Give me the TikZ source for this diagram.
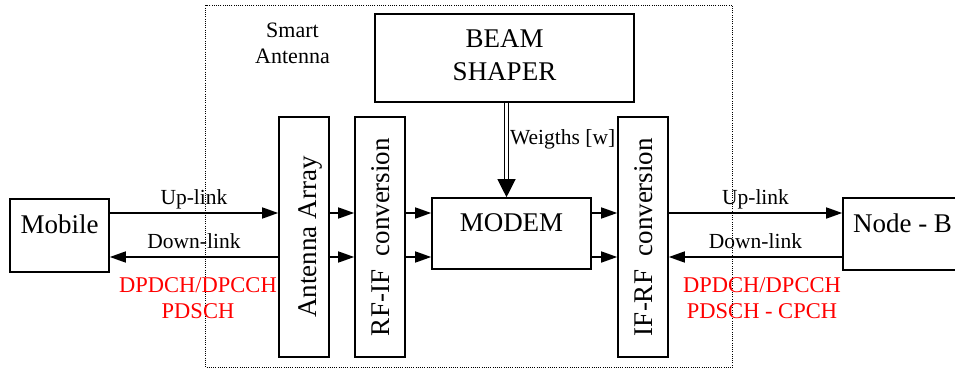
\documentclass[tikz,border=0pt]{standalone}
\usepackage{fontspec}
\setmainfont{Liberation Serif}
\usetikzlibrary{arrows.meta}
\begin{document}
\begin{tikzpicture}[x=1pt,y=-1pt,
  blk/.style={draw, line width=1.6pt, inner sep=0pt, font=\fontsize{27}{33}\selectfont},
  hblk/.style={blk, text height=19pt, text depth=23pt},
  vblk/.style={blk, rotate=90, minimum width=240pt, minimum height=50pt, text depth=6pt},
  lnk/.style={line width=1.5pt, -{Triangle[length=16pt,width=11pt]}},
  lbl/.style={font=\fontsize{21.5}{26}\selectfont, inner sep=0pt},
  chan/.style={font=\fontsize{22.5}{26}\selectfont, text=red, align=center, inner sep=0pt},
  frame/.style={line width=1pt, dash pattern=on 1pt off 1.2pt}
]
\useasboundingbox (0,0) rectangle (955,369);
\clip (0,0) rectangle (955,369);

% smart antenna enclosure
\draw[frame] (205.5,5.5) rectangle (732.5,367.5);
\node[font=\fontsize{22}{26}\selectfont, align=center, inner sep=0pt, anchor=north] (smart) at (292.5,22.4) {Smart\\Antenna};

% blocks
\node[hblk, minimum width=99pt, minimum height=73pt] (mobile) at (59.5,235.5) {Mobile};
\node[hblk, minimum width=119pt, minimum height=72pt] (nodeb) at (902.5,234) {Node - B};
\node[hblk, minimum width=159pt, minimum height=71pt] (modem) at (511.5,233.5) {MODEM};
\node[blk, align=center, minimum width=259pt, minimum height=88pt] (beam) at (504.5,58) {BEAM\\SHAPER\rule[-5pt]{0pt}{5pt}};
\node[vblk, text height=30pt] (ant) at (304,237) {Antenna Array};
\node[vblk, text height=24pt] (rfif) at (380,237) {RF-IF~~conversion};
\node[vblk, text height=24pt] (ifrf) at (643,237) {IF-RF~~conversion};

% signal rows
\coordinate (u) at (0,213);
\coordinate (d) at (0,257);

\draw[lnk] (mobile.east |- u) -- node[lbl, anchor=base, yshift=9pt] (ulL) {Up-link} (ant.north |- u);
\draw[lnk] (ant.north |- d) -- node[lbl, anchor=base, yshift=9pt] (dlL) {Down-link} (mobile.east |- d);
\draw[lnk] (ant.south |- u) -- (rfif.north |- u);
\draw[lnk] (ant.south |- d) -- (rfif.north |- d);
\draw[lnk] (rfif.south |- u) -- (modem.west |- u);
\draw[lnk] (rfif.south |- d) -- (modem.west |- d);
\draw[lnk] (modem.east |- u) -- (ifrf.north |- u);
\draw[lnk] (modem.east |- d) -- (ifrf.north |- d);
\draw[lnk] (ifrf.south |- u) -- node[lbl, anchor=base, yshift=9pt] (ulR) {Up-link} (nodeb.west |- u);
\draw[lnk] (nodeb.west |- d) -- node[lbl, anchor=base, yshift=9pt] (dlR) {Down-link} (ifrf.south |- d);

% weights from the beam shaper
\draw[line width=1.2pt, double distance=2.6pt, -{Triangle[length=18pt,width=18pt]}]
  ([xshift=2pt]beam.south) -- ([xshift=2pt]beam.south |- modem.north)
  node[lbl, pos=0.4375, anchor=base west, xshift=3pt] (w) {Weigths [w]};

% channel names
\node[chan, anchor=north] (chL) at (198,277.4) {DPDCH/DPCCH\\PDSCH};
\node[chan, anchor=north] (chR) at (762,277.4) {DPDCH/DPCCH\\PDSCH - CPCH};
\end{tikzpicture}
\end{document}
